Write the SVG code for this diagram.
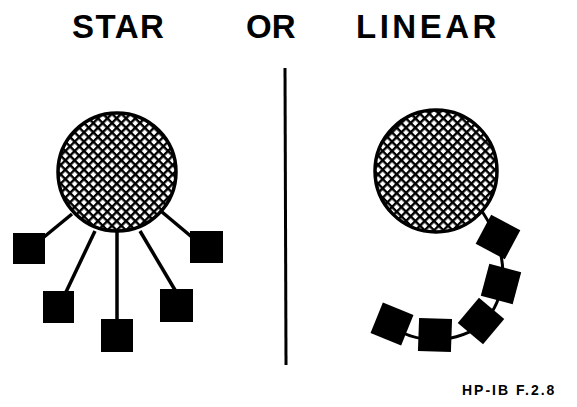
<svg xmlns="http://www.w3.org/2000/svg" width="577" height="407" viewBox="0 0 577 407">
<style>
.title{font-family:"Liberation Sans",Arial,sans-serif;font-weight:bold;font-size:33px;fill:#000}
.foot{font-family:"Liberation Sans",Arial,sans-serif;font-weight:bold;font-size:14px;fill:#000;letter-spacing:2px}
.hub{fill:url(#hatch);stroke:#000;stroke-width:3.5}
.dev{fill:#000}
.wire{stroke:#000;stroke-width:3.5;fill:none}
.bus{stroke:#000;stroke-width:3;fill:none}
</style>
<defs>
<pattern id="hatch" patternUnits="userSpaceOnUse" width="6.6" height="6.6" patternTransform="rotate(45)">
<rect width="6.6" height="6.6" fill="#fff"/>
<rect width="6.6" height="2.4" fill="#000"/>
<rect width="2.4" height="6.6" fill="#000"/>
</pattern>
</defs>
<rect width="577" height="407" fill="#fff"/>
<g id="titles">
<text class="title" x="72" y="38" letter-spacing="1.5">STAR</text>
<text class="title" x="246" y="38">OR</text>
<text class="title" x="356" y="38" letter-spacing="3.5">LINEAR</text>
</g>
<line id="divider" x1="285" y1="68" x2="286" y2="365" stroke="#000" stroke-width="3"/>
<g id="connectors">
<line class="wire" x1="72" y1="214" x2="44" y2="237"/>
<line class="wire" x1="95" y1="231" x2="66" y2="292"/>
<line class="wire" x1="117" y1="232" x2="117" y2="320"/>
<line class="wire" x1="140" y1="231" x2="175" y2="290"/>
<line class="wire" x1="162" y1="212" x2="193" y2="238"/>
<path class="bus" d="M480,208 C505,245 512,285 488,318 C468,342 420,348 392,326"/>
</g>
<g id="star-hub"><circle class="hub" cx="117" cy="172" r="59"/></g>
<g id="star-dev1"><rect class="dev" x="13" y="233" width="32" height="31"/></g>
<g id="star-dev2"><rect class="dev" x="43" y="291" width="31" height="32"/></g>
<g id="star-dev3"><rect class="dev" x="101" y="319" width="32" height="33"/></g>
<g id="star-dev4"><rect class="dev" x="160" y="289" width="33" height="33"/></g>
<g id="star-dev5"><rect class="dev" x="190" y="231" width="33" height="32"/></g>
<g id="linear-hub"><circle class="hub" cx="436" cy="171" r="61"/></g>
<g id="linear-dev1"><rect class="dev" x="-16.5" y="-16.5" width="33" height="33" transform="translate(498,237) rotate(28)"/></g>
<g id="linear-dev2"><rect class="dev" x="-16.5" y="-16.5" width="33" height="33" transform="translate(501,284) rotate(15)"/></g>
<g id="linear-dev3"><rect class="dev" x="-16.5" y="-16.5" width="33" height="33" transform="translate(481,321) rotate(40)"/></g>
<g id="linear-dev4"><rect class="dev" x="-16.5" y="-16.5" width="33" height="33" transform="translate(435,335) rotate(2)"/></g>
<g id="linear-dev5"><rect class="dev" x="-16.5" y="-16.5" width="33" height="33" transform="translate(392,324) rotate(22)"/></g>
<text class="foot" x="462" y="395">HP-IB F.2.8</text>
</svg>
